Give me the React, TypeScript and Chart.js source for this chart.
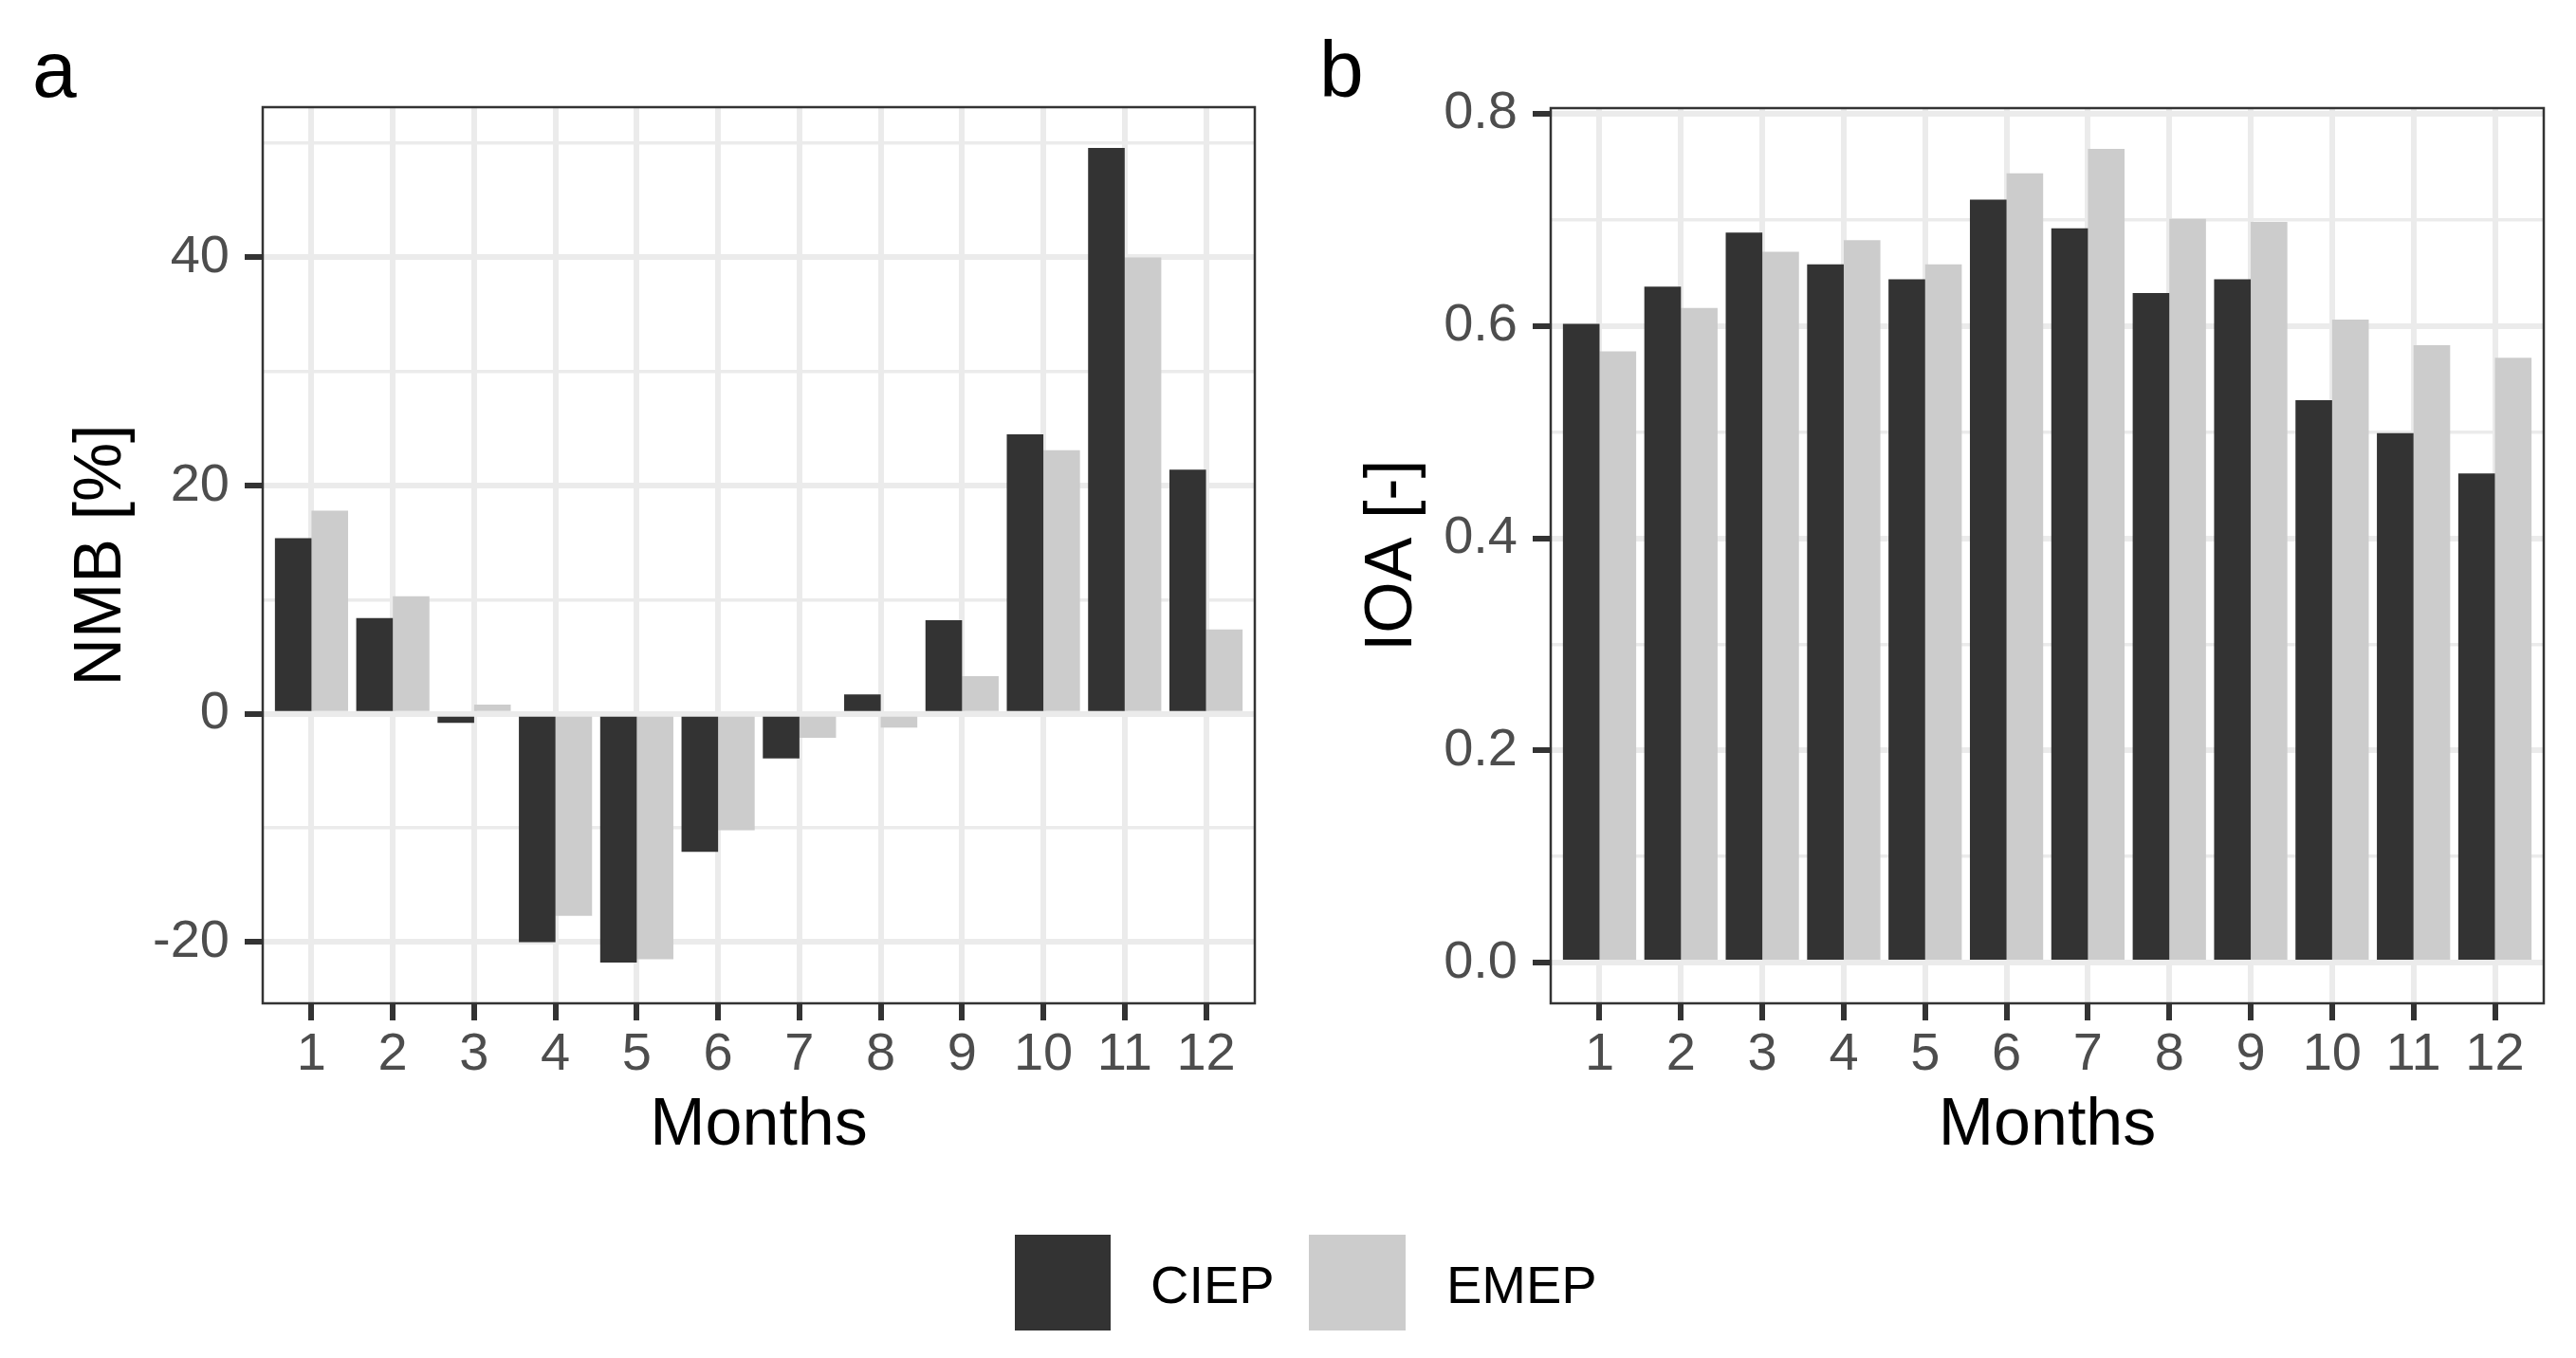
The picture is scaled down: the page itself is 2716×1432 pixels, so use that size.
import React, { useEffect, useRef } from 'react';
import { Chart, registerables } from 'chart.js';

Chart.register(...registerables);

// ---- data ----
const months = [1, 2, 3, 4, 5, 6, 7, 8, 9, 10, 11, 12];
const seriesNames = ['CIEP', 'EMEP'];
const nmbCIEP = [15.4, 8.4, -0.8, -20.0, -21.8, -12.1, -3.9, 1.7, 8.2, 24.5, 49.6, 21.4];
const nmbEMEP = [17.8, 10.3, 0.8, -17.7, -21.5, -10.2, -2.1, -1.2, 3.3, 23.1, 40.0, 7.4];
const ioaCIEP = [0.602, 0.637, 0.688, 0.658, 0.644, 0.719, 0.692, 0.631, 0.644, 0.530, 0.499, 0.461];
const ioaEMEP = [0.576, 0.617, 0.670, 0.681, 0.658, 0.744, 0.767, 0.701, 0.698, 0.606, 0.582, 0.570];
const nmbMajorTicks = [-20, 0, 20, 40];
const nmbMinorTicks = [-10, 10, 30, 50];
const ioaMajorTicks = [0, 0.2, 0.4, 0.6, 0.8];
const ioaMinorTicks = [0.1, 0.3, 0.5, 0.7];

const FONT = "'Liberation Sans', Arial, Helvetica, sans-serif";
const DARK = '#333333';
const LIGHT = '#CCCCCC';
const GRID = '#EBEBEB';
const TICKTXT = '#4D4D4D';

const W = 2716;
const H = 1432;
const HALF = 1358;

const borderPlugin = {
  id: 'panelBorder',
  afterDatasetsDraw(chart: any) {
    const { ctx, chartArea } = chart;
    ctx.save();
    ctx.strokeStyle = DARK;
    ctx.lineWidth = 2.5;
    ctx.strokeRect(chartArea.left, chartArea.top, chartArea.right - chartArea.left, chartArea.bottom - chartArea.top);
    ctx.restore();
  },
};

function yRange(a: number[], b: number[]) {
  const all = [0, ...a, ...b];
  const lo = Math.min(...all);
  const hi = Math.max(...all);
  const pad = (hi - lo) * 0.05;
  return { min: lo - pad, max: hi + pad };
}

interface PanelCfg {
  ciep: number[];
  emep: number[];
  major: number[];
  minor: number[];
  decimals: number;
  yTitle: string;
  pad: { left: number; right: number; top: number; bottom: number };
  yWidth: number;
  xHeight: number;
}

function buildChart(canvas: HTMLCanvasElement, cfg: PanelCfg) {
  const isMajor = (v: number) => cfg.major.some((m) => Math.abs(m - v) < 1e-9);
  const yTicks = [...cfg.major, ...cfg.minor].sort((a, b) => a - b);
  const r = yRange(cfg.ciep, cfg.emep);
  return new Chart(canvas, {
    type: 'bar',
    data: {
      datasets: [
        {
          label: seriesNames[0],
          data: months.map((m, i) => ({ x: m, y: cfg.ciep[i] })),
          backgroundColor: DARK,
          borderWidth: 0,
          categoryPercentage: 0.9,
          barPercentage: 1,
        },
        {
          label: seriesNames[1],
          data: months.map((m, i) => ({ x: m, y: cfg.emep[i] })),
          backgroundColor: LIGHT,
          borderWidth: 0,
          categoryPercentage: 0.9,
          barPercentage: 1,
        },
      ],
    } as any,
    options: {
      animation: false,
      responsive: false,
      devicePixelRatio: 1,
      events: [],
      layout: { padding: cfg.pad },
      plugins: { legend: { display: false }, tooltip: { enabled: false } },
      scales: {
        x: {
          type: 'linear',
          min: 0.4,
          max: 12.6,
          offset: false,
          afterBuildTicks: (s: any) => {
            s.ticks = months.map((m) => ({ value: m }));
          },
          afterFit: (s: any) => {
            s.height = cfg.xHeight;
          },
          border: { display: false },
          grid: {
            offset: false,
            color: GRID,
            lineWidth: 6,
            tickColor: DARK,
            tickWidth: 6,
            tickLength: 18,
          },
          ticks: {
            autoSkip: false,
            maxRotation: 0,
            padding: 3,
            color: TICKTXT,
            font: { family: FONT, size: 56 },
            callback: (v: any) => String(v),
          },
          title: {
            display: true,
            text: 'Months',
            color: '#000000',
            padding: 0,
            font: { family: FONT, size: 70 },
          },
        },
        y: {
          type: 'linear',
          min: r.min,
          max: r.max,
          afterBuildTicks: (s: any) => {
            s.ticks = yTicks.map((v) => ({ value: v }));
          },
          afterFit: (s: any) => {
            s.width = cfg.yWidth;
          },
          border: { display: false },
          grid: {
            color: GRID,
            lineWidth: (c: any) => (c.tick && isMajor(c.tick.value) ? 6 : 3.5),
            tickColor: (c: any) => (c.tick && isMajor(c.tick.value) ? DARK : 'rgba(0,0,0,0)'),
            tickWidth: 6,
            tickLength: 19,
          },
          ticks: {
            autoSkip: false,
            padding: 16,
            color: TICKTXT,
            font: { family: FONT, size: 56 },
            callback: (v: any) => (isMajor(Number(v)) ? Number(v).toFixed(cfg.decimals) : ''),
          },
          title: {
            display: true,
            text: cfg.yTitle,
            color: '#000000',
            padding: 0,
            font: { family: FONT, size: 70 },
          },
        },
      },
    } as any,
    plugins: [borderPlugin],
  });
}

function Panel({ left, cfg }: { left: number; cfg: PanelCfg }) {
  const ref = useRef<HTMLCanvasElement | null>(null);
  useEffect(() => {
    if (!ref.current) return;
    const chart = buildChart(ref.current, cfg);
    return () => chart.destroy();
  }, []);
  return (
    <canvas
      ref={ref}
      width={HALF}
      height={H}
      style={{ position: 'absolute', left, top: 0, width: HALF, height: H }}
    />
  );
}

const panelA: PanelCfg = {
  ciep: nmbCIEP,
  emep: nmbEMEP,
  major: nmbMajorTicks,
  minor: nmbMinorTicks,
  decimals: 0,
  yTitle: 'NMB [%]',
  pad: { left: 66, right: 35, top: 113, bottom: 202 },
  yWidth: 211,
  xHeight: 172,
};

const panelB: PanelCfg = {
  ciep: ioaCIEP,
  emep: ioaEMEP,
  major: ioaMajorTicks,
  minor: ioaMinorTicks,
  decimals: 1,
  yTitle: 'IOA [-]',
  pad: { left: 69, right: 34, top: 114, bottom: 202 },
  yWidth: 208,
  xHeight: 172,
};

const legendText: React.CSSProperties = {
  position: 'absolute',
  fontFamily: FONT,
  fontSize: 56,
  lineHeight: '56px',
  color: '#000',
  whiteSpace: 'nowrap',
};

export default function App() {
  useEffect(() => {
    document.body.style.margin = '0';
  }, []);
  return (
    <div style={{ position: 'absolute', left: 0, top: 0, width: W, height: H, background: '#fff', overflow: 'hidden' }}>
      <Panel left={0} cfg={panelA} />
      <Panel left={HALF} cfg={panelB} />
      <div style={{ position: 'absolute', left: 34, top: 31, fontFamily: FONT, fontSize: 84, lineHeight: '84px', color: '#000' }}>a</div>
      <div style={{ position: 'absolute', left: 1391, top: 31, fontFamily: FONT, fontSize: 84, lineHeight: '84px', color: '#000' }}>b</div>
      <div style={{ position: 'absolute', left: 1070, top: 1302, width: 101, height: 101, background: DARK }} />
      <div style={{ ...legendText, left: 1213, top: 1327 }}>{seriesNames[0]}</div>
      <div style={{ position: 'absolute', left: 1380, top: 1302, width: 102, height: 101, background: LIGHT }} />
      <div style={{ ...legendText, left: 1525, top: 1327 }}>{seriesNames[1]}</div>
    </div>
  );
}
